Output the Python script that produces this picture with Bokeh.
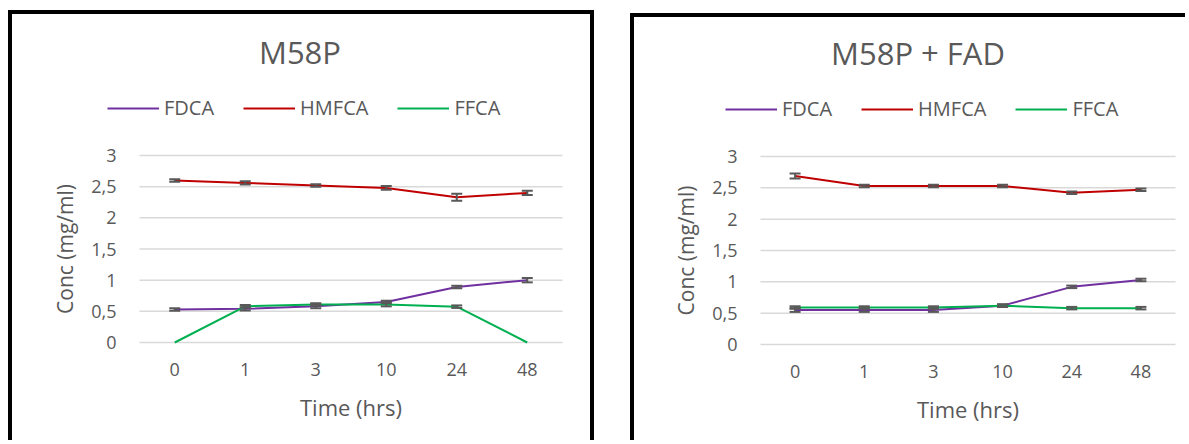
import math
from bokeh.plotting import figure
from bokeh.models import (Range1d, Legend, LegendItem, ColumnDataSource, Whisker, TeeHead)
from bokeh.layouts import row
from bokeh.embed import file_html
from bokeh.resources import INLINE
from bokeh.core.properties import value

# ---------------- data ----------------
times = ["0", "1", "3", "10", "24", "48"]
series_names = ["FDCA", "HMFCA", "FFCA"]
series_colors = ["#7030A0", "#C00000", "#00B050"]
y_ticks = [0, 0.5, 1, 1.5, 2, 2.5, 3]
y_tick_labels = ["0", "0,5", "1", "1,5", "2", "2,5", "3"]

# Panel 1: M58P
m58p_fdca = [0.53, 0.54, 0.58, 0.65, 0.89, 1.00]
m58p_fdca_err = [0.02, 0.025, 0.03, 0.02, 0.02, 0.035]
m58p_hmfca = [2.60, 2.56, 2.52, 2.48, 2.33, 2.40]
m58p_hmfca_err = [0.02, 0.025, 0.02, 0.03, 0.055, 0.035]
m58p_ffca = [0.0, 0.58, 0.61, 0.61, 0.575, 0.0]
m58p_ffca_err = [0.0, 0.02, 0.02, 0.03, 0.02, 0.0]

# Panel 2: M58P + FAD
fad_fdca = [0.55, 0.55, 0.55, 0.62, 0.92, 1.03]
fad_fdca_err = [0.03, 0.03, 0.03, 0.02, 0.02, 0.02]
fad_hmfca = [2.69, 2.53, 2.53, 2.53, 2.42, 2.47]
fad_hmfca_err = [0.04, 0.02, 0.02, 0.02, 0.02, 0.02]
fad_ffca = [0.59, 0.59, 0.59, 0.62, 0.58, 0.58]
fad_ffca_err = [0.02, 0.02, 0.02, 0.02, 0.02, 0.02]

FONT = "Open Sans"
TXT = "#595959"
GRID = "#D9D9D9"
ERR = "#595959"


def make_panel(title, values, errors, width, height, area, legend_loc,
               title_dx, margin, shadow):
    # area = plot-area box inside the figure, in pixels: (left, right, top, bottom)
    left, right, top, bottom = area
    n = len(times)
    ymax = max(y_ticks)
    ppx = (right - left) / n            # pixels per category
    ppy = (bottom - top) / ymax         # pixels per y unit
    x0 = -0.5 - left / ppx
    x1 = n - 0.5 + (width - right) / ppx
    y0 = -(height - bottom) / ppy
    y1 = ymax + top / ppy

    p = figure(width=width, height=height,
               x_range=Range1d(x0, x1), y_range=Range1d(y0, y1),
               x_axis_type=None, y_axis_type=None,
               output_backend="svg", toolbar_location=None,
               min_border=0, outline_line_color=None,
               background_fill_color="white", border_fill_color="white",
               margin=margin, styles={"box-shadow": shadow})
    p.grid.visible = False

    xs = list(range(n))
    # gridlines
    p.segment(x0=-0.5, x1=n - 0.5, y0=y_ticks, y1=y_ticks,
              line_color=GRID, line_width=1.5)
    # y tick labels
    p.text(x=[-0.5] * len(y_ticks), y=y_ticks, text=y_tick_labels,
           x_offset=-23, text_align="right", text_baseline="middle",
           text_font=value(FONT), text_font_size=value("18px"), text_color=TXT)
    # x tick labels
    p.text(x=xs, y=[0] * n, text=times, y_offset=27,
           text_align="center", text_baseline="middle",
           text_font=value(FONT), text_font_size=value("18px"), text_color=TXT)
    # axis titles
    p.text(x=[-0.5], y=[ymax / 2], text=["Conc (mg/ml)"], x_offset=-75,
           angle=math.pi / 2, text_align="center", text_baseline="middle",
           text_font=value(FONT), text_font_size=value("21px"), text_color=TXT)
    p.text(x=[(n - 1) / 2], y=[0], text=["Time (hrs)"], y_offset=64,
           text_align="center", text_baseline="middle",
           text_font=value(FONT), text_font_size=value("22px"), text_color=TXT)
    # chart title
    p.text(x=[(n - 1) / 2], y=[ymax], text=[title], x_offset=title_dx, y_offset=-104,
           text_align="center", text_baseline="alphabetic",
           text_font=value(FONT), text_font_size=value("31px"), text_color=TXT)

    items = []
    for name, color, vals, errs in zip(series_names, series_colors, values, errors):
        r = p.line(xs, vals, line_color=color, line_width=2)
        items.append(LegendItem(label=name, renderers=[r]))
        keep = [i for i, e in enumerate(errs) if e > 0]
        src = ColumnDataSource(dict(
            x=[xs[i] for i in keep],
            upper=[vals[i] + errs[i] for i in keep],
            lower=[vals[i] - errs[i] for i in keep]))
        p.add_layout(Whisker(base="x", upper="upper", lower="lower", source=src,
                             line_color=ERR, line_width=2, level="annotation",
                             upper_head=TeeHead(size=11, line_color=ERR, line_width=2),
                             lower_head=TeeHead(size=11, line_color=ERR, line_width=2)))

    legend = Legend(items=items, orientation="horizontal", location=legend_loc,
                    padding=0, margin=0, spacing=29, glyph_width=52, glyph_height=20,
                    label_height=20, label_standoff=5,
                    label_text_font=FONT, label_text_font_size="20px",
                    label_text_color=TXT, border_line_color=None,
                    background_fill_alpha=0)
    p.add_layout(legend)
    return p


# left figure: page x 12..590, y 14..444 ; plot area page x 139..562, y 155..342
p1 = make_panel("M58P",
                [m58p_fdca, m58p_hmfca, m58p_ffca],
                [m58p_fdca_err, m58p_hmfca_err, m58p_ffca_err],
                width=578, height=430, area=(127, 550, 141, 328),
                legend_loc=(95, 323), title_dx=-51,
                margin=(14, 0, 0, 12),
                shadow="-4px -4px 0 0 black, 4px -4px 0 0 black")
# right figure: page x 634..1189, y 17..444 ; plot area page x 760..1175, y 156..344
p2 = make_panel("M58P + FAD",
                [fad_fdca, fad_hmfca, fad_ffca],
                [fad_fdca_err, fad_hmfca_err, fad_ffca_err],
                width=555, height=427, area=(126, 541, 139, 327),
                legend_loc=(91, 322), title_dx=-50,
                margin=(17, 0, 0, 44),
                shadow="-4px -4px 0 0 black")

layout = row(p1, p2)
open("out.html", "w").write(file_html(layout, INLINE))
